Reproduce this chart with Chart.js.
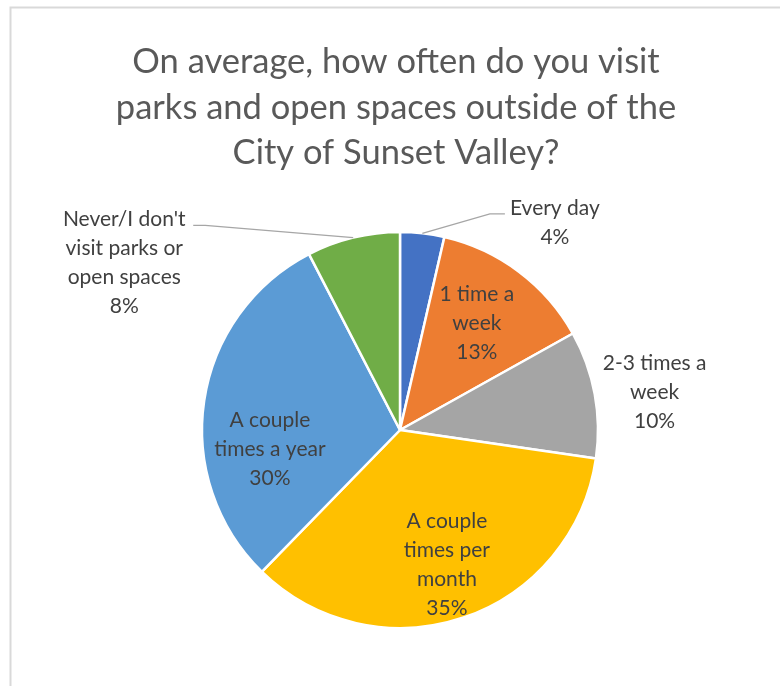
<!DOCTYPE html>
<html>
<head>
<meta charset="utf-8">
<script src="https://cdn.jsdelivr.net/npm/chart.js@4.4.0/dist/chart.umd.min.js"></script>
<style>
  html, body { margin: 0; padding: 0; background: #ffffff; }
  #wrap { position: relative; width: 780px; height: 686px; }
</style>
</head>
<body>
<div id="wrap"><canvas id="pieChart" width="780" height="686"></canvas></div>
<script>
// --- data ---
const titleLines = ['On average, how often do you visit', 'parks and open spaces outside of the', 'City of Sunset Valley?'];
const categories = ['Every day', '1 time a week', '2-3 times a week', 'A couple times per month', 'A couple times a year', "Never/I don't visit parks or open spaces"];
const labelLines = [
    ['Every day'],
    ['1 time a', 'week'],
    ['2-3 times a', 'week'],
    ['A couple', 'times per', 'month'],
    ['A couple', 'times a year'],
    ["Never/I don't", 'visit parks or', 'open spaces']
];
const shares = [3.6, 13.3, 10.4, 35.0, 30.1, 7.6];

// --- style ---
const sliceColors = ['#4472C4', '#ED7D31', '#A5A5A5', '#FFC000', '#5B9BD5', '#70AD47'];
const FONT = 'Lato, "Open Sans", sans-serif';
// label placement: angle (deg from top, clockwise) + distance as fraction of radius; optional leader line
const labelPlacement = [
    { angle: 36.8, frac: 1.306, leader: [[-65, -9], [-50, -9]] },
    { angle: 35.7, frac: 0.665 },
    { angle: 81.5, frac: 1.30 },
    { angle: 160.8, frac: 0.72 },
    { angle: 261.7, frac: 0.664 },
    { angle: 301.3, frac: 1.63, leader: [[81, -37], [69, -37]] }
];

const pieDecor = {
    id: 'pieDecor',
    beforeDraw(chart) {
        const ctx = chart.ctx;
        ctx.save();
        // frame
        ctx.strokeStyle = '#D9D9D9';
        ctx.lineWidth = 2;
        ctx.beginPath();
        ctx.moveTo(10.5, 686);
        ctx.lineTo(10.5, 7.5);
        ctx.lineTo(780, 7.5);
        ctx.stroke();
        // title
        ctx.fillStyle = '#595959';
        ctx.font = '34.5px ' + FONT;
        ctx.textAlign = 'center';
        ctx.textBaseline = 'middle';
        titleLines.forEach((t, i) => ctx.fillText(t, 396, 62 + i * 45.5));
        ctx.restore();
    },
    afterDatasetsDraw(chart) {
        const ctx = chart.ctx;
        const arcs = chart.getDatasetMeta(0).data;
        const total = shares.reduce((a, b) => a + b, 0);
        ctx.save();
        ctx.font = '21px ' + FONT;
        ctx.fillStyle = '#404040';
        ctx.textAlign = 'center';
        ctx.textBaseline = 'middle';
        arcs.forEach((arc, i) => {
            const p = labelPlacement[i];
            const r = arc.outerRadius;
            const mid = (arc.startAngle + arc.endAngle) / 2;
            const a = (p.angle - 90) * Math.PI / 180;
            const cx = arc.x + Math.cos(a) * r * p.frac;
            const cy = arc.y + Math.sin(a) * r * p.frac;
            if (p.leader) {
                ctx.strokeStyle = '#A6A6A6';
                ctx.lineWidth = 1.3;
                ctx.beginPath();
                ctx.moveTo(arc.x + Math.cos(mid) * r, arc.y + Math.sin(mid) * r);
                p.leader.forEach(pt => ctx.lineTo(cx + pt[0], cy + pt[1]));
                ctx.stroke();
            }
            const lines = labelLines[i].concat([Math.round(shares[i] / total * 100) + '%']);
            const lh = 29;
            const y0 = cy - (lines.length - 1) * lh / 2;
            lines.forEach((t, j) => ctx.fillText(t, cx, y0 + j * lh));
        });
        ctx.restore();
    }
};

new Chart(document.getElementById('pieChart').getContext('2d'), {
    type: 'pie',
    data: {
        labels: categories,
        datasets: [{
            data: shares,
            backgroundColor: sliceColors,
            borderColor: '#ffffff',
            borderWidth: 2.5,
            radius: 198
        }]
    },
    options: {
        responsive: false,
        animation: false,
        layout: { padding: { left: 20, right: 0, top: 174, bottom: 0 } },
        plugins: {
            legend: { display: false },
            tooltip: { enabled: false },
            title: { display: false }
        }
    },
    plugins: [pieDecor]
});
</script>
</body>
</html>
